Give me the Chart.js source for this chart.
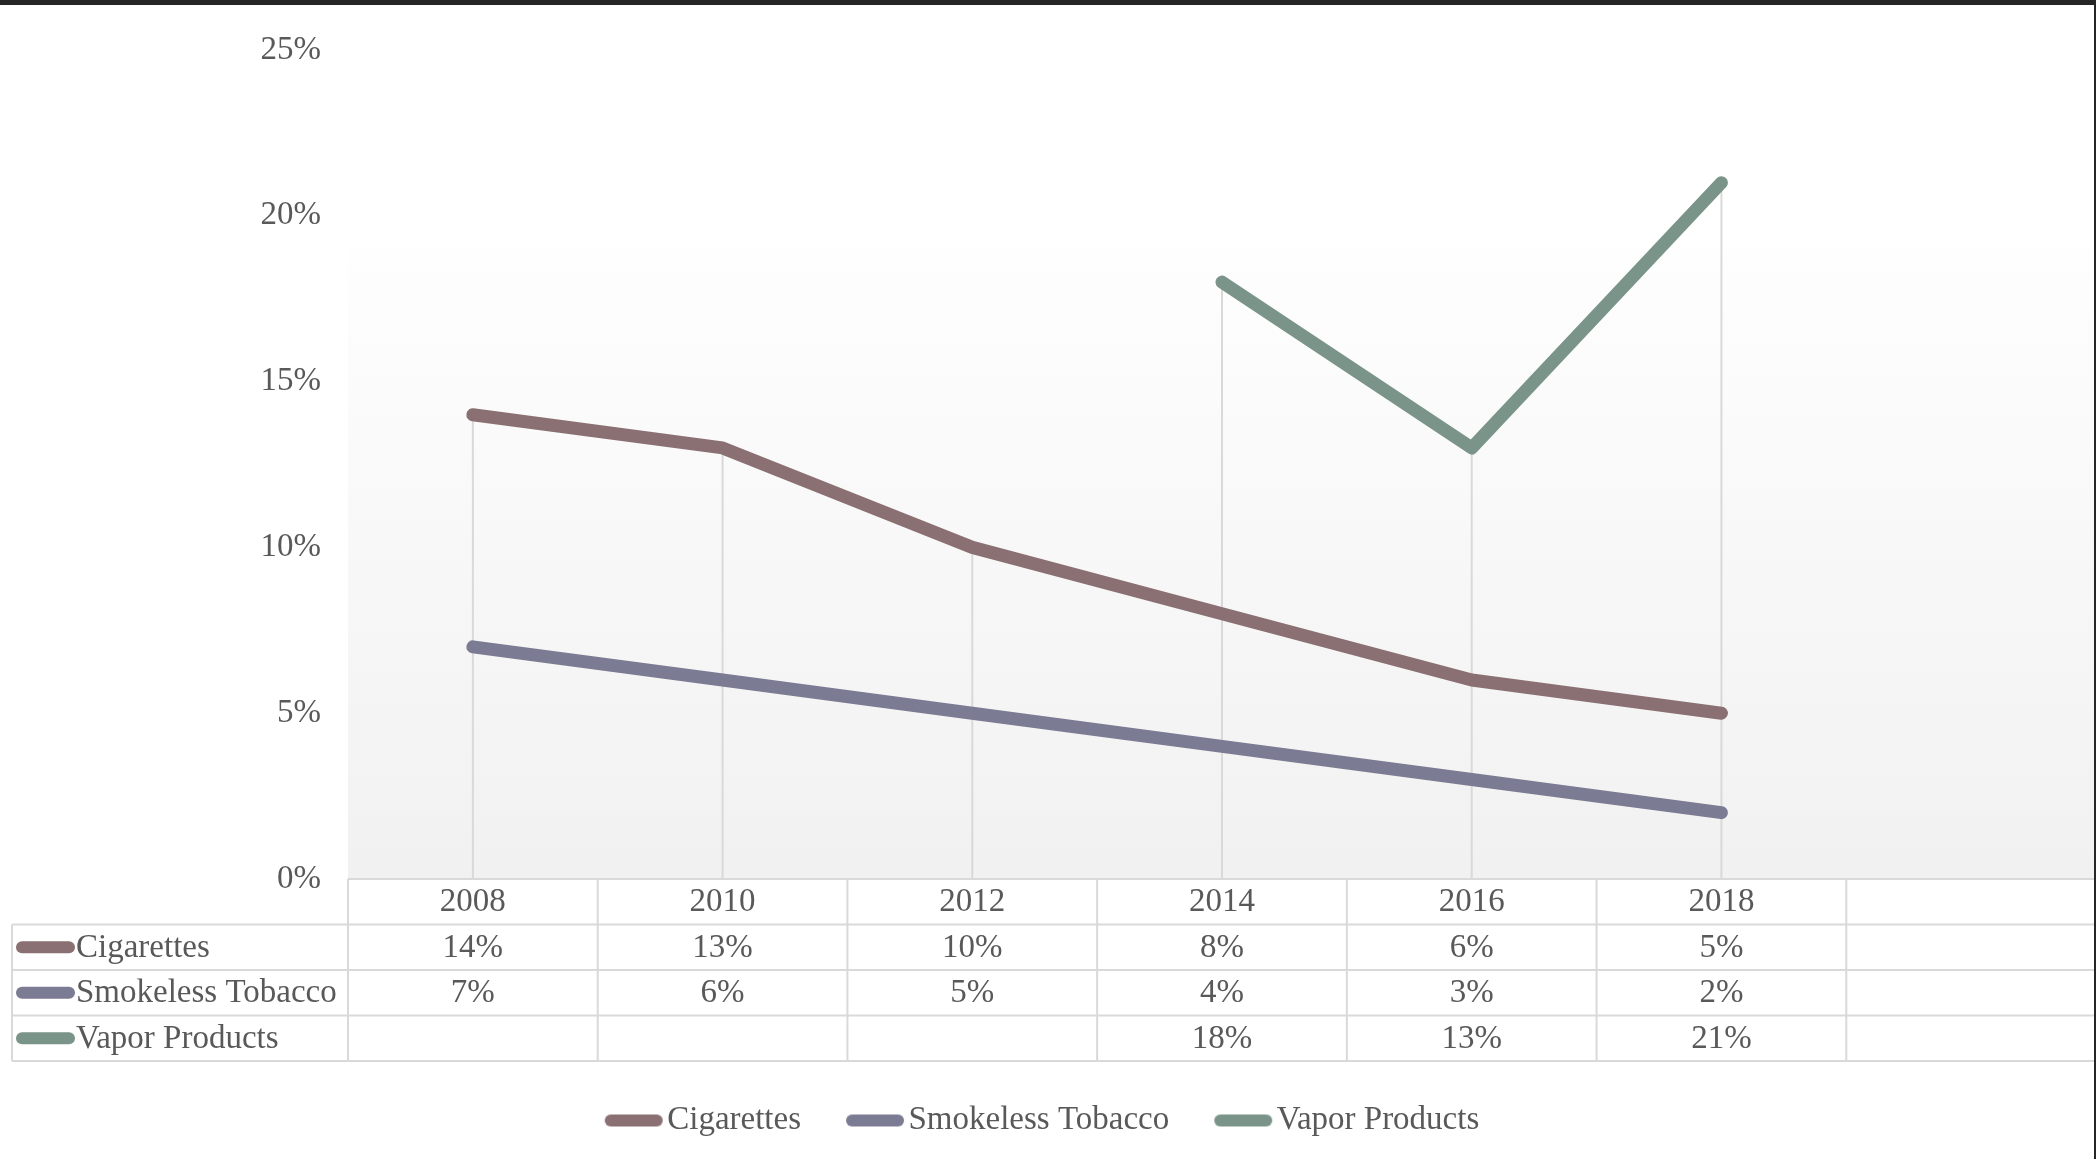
<!DOCTYPE html>
<html>
<head>
<meta charset="utf-8">
<script src="https://cdn.jsdelivr.net/npm/chart.js@4.4.1/dist/chart.umd.min.js"></script>
<style>
    html, body { margin: 0; padding: 0; background: #ffffff; }
    canvas { display: block; }
</style>
</head>
<body>
<canvas id="grafico" width="2096" height="1159"></canvas>
<script>
// datos
const anios = ["2008", "2010", "2012", "2014", "2016", "2018", ""];
const cigarrillos = [14, 13, 10, 8, 6, 5, null];
const sinHumo = [7, 6, 5, 4, 3, 2, null];
const vapeo = [null, null, null, 18, 13, 21, null];
const ticksY = [0, 5, 10, 15, 20, 25];

const nombres = ["Cigarettes", "Smokeless Tobacco", "Vapor Products"];
const colores = ["#8a7072", "#7b7b93", "#7a9489"];
const series = [cigarrillos, sinHumo, vapeo];

const fuente = "'Liberation Serif', 'Times New Roman', serif";
const tamFuente = 33;
const gris = "#595959";
const linea = "#d9d9d9";

// muestra redondeada para la leyenda
function muestra(color) {
    const c = document.createElement("canvas");
    c.width = 60;
    c.height = 14;
    const g = c.getContext("2d");
    g.strokeStyle = color;
    g.lineWidth = 12;
    g.lineCap = "round";
    g.beginPath();
    g.moveTo(7, 7);
    g.lineTo(53, 7);
    g.stroke();
    return c;
}

// fondo del area de trazado
const fondo = {
    id: "fondo",
    beforeDatasetsDraw(chart) {
        const { ctx, chartArea: a } = chart;
        const inicio = a.top + (a.bottom - a.top) * 0.239;
        const g = ctx.createLinearGradient(0, inicio, 0, a.bottom);
        g.addColorStop(0, "#fefefe");
        g.addColorStop(1, "#f1f1f1");
        ctx.save();
        ctx.fillStyle = g;
        ctx.fillRect(a.left, inicio, a.right - a.left, a.bottom - inicio);

        // lineas de caida desde el valor mas alto
        const x = chart.scales.x;
        const y = chart.scales.y;
        ctx.strokeStyle = linea;
        ctx.lineWidth = 2;
        anios.forEach((_, i) => {
            const vals = series.map(s => s[i]).filter(v => v !== null);
            if (!vals.length) return;
            const px = x.getPixelForValue(i);
            ctx.beginPath();
            ctx.moveTo(px, y.getPixelForValue(Math.max(...vals)));
            ctx.lineTo(px, a.bottom);
            ctx.stroke();
        });
        ctx.restore();
    }
};

// tabla de datos debajo del eje
const tabla = {
    id: "tabla",
    afterDraw(chart) {
        const { ctx, chartArea: a } = chart;
        const x = chart.scales.x;
        const ancho = (a.right - a.left) / anios.length;
        const alto = 45.5;
        const arriba = a.bottom;
        const izq = 12;
        const der = a.right - 1;

        ctx.save();
        ctx.strokeStyle = linea;
        ctx.lineWidth = 2;

        // horizontales
        ctx.beginPath();
        ctx.moveTo(a.left, arriba);
        ctx.lineTo(der, arriba);
        for (let r = 1; r <= 4; r++) {
            ctx.moveTo(izq, arriba + r * alto);
            ctx.lineTo(der, arriba + r * alto);
        }
        // verticales
        ctx.moveTo(izq, arriba + alto);
        ctx.lineTo(izq, arriba + 4 * alto);
        for (let c = 0; c <= anios.length; c++) {
            const px = c === anios.length ? der : a.left + c * ancho;
            ctx.moveTo(px, arriba);
            ctx.lineTo(px, arriba + 4 * alto);
        }
        ctx.stroke();

        ctx.font = tamFuente + "px " + fuente;
        ctx.fillStyle = gris;
        ctx.textBaseline = "middle";

        series.forEach((s, r) => {
            const cy = arriba + (r + 1.5) * alto;

            // muestra de color
            ctx.strokeStyle = colores[r];
            ctx.lineWidth = 12;
            ctx.lineCap = "round";
            ctx.beginPath();
            ctx.moveTo(22, cy);
            ctx.lineTo(69, cy);
            ctx.stroke();

            ctx.textAlign = "left";
            ctx.fillText(nombres[r], 76, cy + 1);

            ctx.textAlign = "center";
            s.forEach((v, i) => {
                if (v === null) return;
                ctx.fillText(v + "%", x.getPixelForValue(i), cy + 1);
            });
        });

        // bordes oscuros de la captura
        ctx.fillStyle = "#262626";
        ctx.fillRect(0, 0, chart.width, 5);
        ctx.fillRect(chart.width - 2, 0, 2, chart.height);
        ctx.restore();
    }
};

new Chart(document.getElementById("grafico"), {
    type: "line",
    data: {
        labels: anios,
        datasets: series.map((s, i) => ({
            label: nombres[i],
            data: s,
            borderColor: colores[i],
            backgroundColor: colores[i],
            borderWidth: 13,
            borderCapStyle: "round",
            borderJoinStyle: "round",
            pointRadius: 0,
            pointHoverRadius: 0,
            tension: 0,
            fill: false
        }))
    },
    options: {
        responsive: false,
        animation: false,
        layout: {
            padding: { top: 50, left: 0, right: 0, bottom: 12 }
        },
        plugins: {
            tooltip: { enabled: false },
            legend: {
                position: "bottom",
                labels: {
                    color: gris,
                    font: { family: fuente, size: tamFuente },
                    usePointStyle: true,
                    pointStyleWidth: 34,
                    padding: 57,
                    generateLabels(chart) {
                        return chart.data.datasets.map((d, i) => ({
                            text: d.label,
                            fillStyle: d.borderColor,
                            strokeStyle: d.borderColor,
                            fontColor: gris,
                            lineWidth: 0,
                            pointStyle: muestra(d.borderColor),
                            hidden: false,
                            datasetIndex: i
                        }));
                    }
                }
            }
        },
        scales: {
            x: {
                type: "category",
                offset: true,
                grid: { display: false, drawTicks: false },
                border: { display: false },
                ticks: {
                    color: gris,
                    font: { family: fuente, size: tamFuente },
                    padding: 4,
                    maxRotation: 0,
                    autoSkip: false
                },
                afterFit(scale) {
                    const leg = scale.chart.legend;
                    scale.height = scale.chart.height - 879 - 12 - (leg ? leg.height : 60);
                }
            },
            y: {
                min: 0,
                max: 25,
                grid: { display: false, drawTicks: false },
                border: { display: false },
                afterBuildTicks(scale) {
                    scale.ticks = ticksY.map(v => ({ value: v }));
                },
                ticks: {
                    color: gris,
                    font: { family: fuente, size: tamFuente },
                    padding: 27,
                    callback: v => v + "%"
                },
                afterFit(scale) {
                    scale.width = 348;
                }
            }
        }
    },
    plugins: [fondo, tabla]
});
</script>
</body>
</html>
